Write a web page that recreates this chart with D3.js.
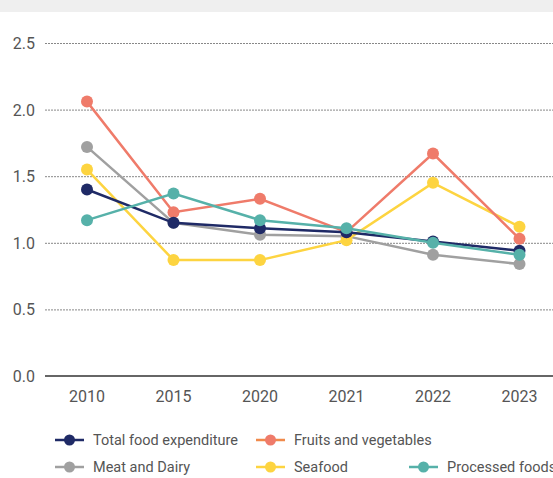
<!DOCTYPE html>
<html><head><meta charset="utf-8">
<script src="https://cdn.jsdelivr.net/npm/d3@7"></script>
<style>body{margin:0;background:#fff;overflow:hidden}svg{display:block;font-family:Roboto,"Liberation Sans",sans-serif}</style>
</head><body><svg id="c" width="553" height="478"></svg>
<script>
const years = ["2010","2015","2020","2021","2022","2023"];
const yTicks = [0, 0.5, 1.0, 1.5, 2.0, 2.5];
const totalFood = [1.40, 1.15, 1.11, 1.08, 1.01, 0.94];
const fruitsVeg = [2.06, 1.23, 1.33, 1.08, 1.67, 1.03];
const meatDairy = [1.72, 1.15, 1.06, 1.05, 0.91, 0.84];
const seafood   = [1.55, 0.87, 0.87, 1.02, 1.45, 1.12];
const processed = [1.17, 1.37, 1.17, 1.11, 1.00, 0.91];
const seriesNames = ["Total food expenditure","Fruits and vegetables","Meat and Dairy","Seafood","Processed foods"];

const series = [
  {name: seriesNames[0], values: totalFood, color: "#1f2a66", legendLine: "#1f2a66"},
  {name: seriesNames[1], values: fruitsVeg, color: "#ef7b6a", legendLine: "#f08a4b"},
  {name: seriesNames[2], values: meatDairy, color: "#a0a0a0", legendLine: "#a0a0a0"},
  {name: seriesNames[3], values: seafood, color: "#fdd440", legendLine: "#fdd440"},
  {name: seriesNames[4], values: processed, color: "#56b1a9", legendLine: "#56b1a9"}
];
const drawOrder = [2, 3, 1, 0, 4];

const svg = d3.select("#c");
svg.append("rect").attr("x",0).attr("y",0).attr("width",553).attr("height",12).attr("fill","#efefef");

const x = d3.scaleBand().domain(years).range([43.75, 562.75]);
const y = d3.scaleLinear().domain([0, 2.5]).range([376, 43]);

// grid
svg.append("g").selectAll("line").data(yTicks.filter(d=>d>0)).join("line")
  .attr("x1",45).attr("x2",553).attr("y1",d=>y(d)+0.5).attr("y2",d=>y(d)+0.5)
  .attr("stroke","#888").attr("stroke-width",1).attr("stroke-dasharray","2,1");
svg.append("line").attr("x1",45).attr("x2",553).attr("y1",y(0)).attr("y2",y(0))
  .attr("stroke","#666").attr("stroke-width",2);

// y labels
svg.append("g").selectAll("text").data(yTicks).join("text")
  .attr("x",35).attr("y",d=>y(d)+6).attr("text-anchor","end")
  .attr("font-size",16).attr("fill","#555").text(d=>d.toFixed(1));

// x labels
svg.append("g").selectAll("text").data(years).join("text")
  .attr("x",d=>x(d)+x.bandwidth()/2).attr("y",402).attr("text-anchor","middle")
  .attr("font-size",16).attr("fill","#555").text(d=>d);

const line = d3.line().x((d,i)=>x(years[i])+x.bandwidth()/2).y(d=>y(d));
drawOrder.forEach(k=>{
  const s = series[k];
  const g = svg.append("g");
  g.append("path").attr("d",line(s.values)).attr("fill","none").attr("stroke",s.color).attr("stroke-width",2.5);
  g.selectAll("circle").data(s.values).join("circle")
    .attr("cx",(d,i)=>x(years[i])+x.bandwidth()/2).attr("cy",d=>y(d)).attr("r",6).attr("fill",s.color);
});

// legend
const legPos = [[55,440],[256,440],[55,467],[256,467],[409,467]];
series.forEach((s,i)=>{
  const [lx,ly] = legPos[i];
  const g = svg.append("g");
  g.append("line").attr("x1",lx).attr("x2",lx+29).attr("y1",ly).attr("y2",ly).attr("stroke",s.legendLine).attr("stroke-width",2.5);
  g.append("circle").attr("cx",lx+14.5).attr("cy",ly).attr("r",5.5).attr("fill",s.color);
  g.append("text").attr("x",lx+38).attr("y",ly+5).attr("font-size",14.5).attr("fill","#555").text(s.name);
});
</script></body></html>
